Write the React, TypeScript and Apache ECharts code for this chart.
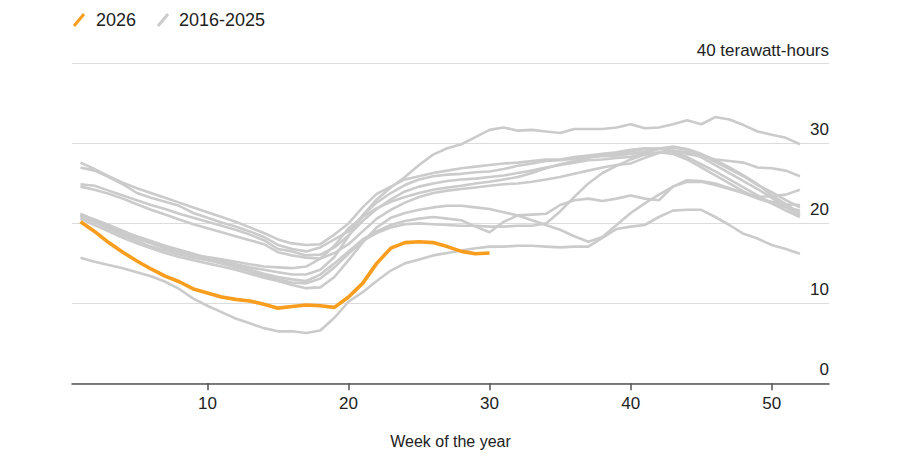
import React, { useEffect, useRef } from "react";
import * as echarts from "echarts";

const X_TICKS = [10, 20, 30, 40, 50];
const Y_TICK_TOP_LABEL = "40 terawatt-hours";

const Y2026 = [
  20.2, 19.0, 17.6, 16.4, 15.3, 14.3, 13.4, 12.7, 11.8, 11.3,
  10.8, 10.5, 10.3, 9.9, 9.4, 9.6, 9.8, 9.7, 9.5, 10.8,
  12.5, 15.0, 16.9, 17.6, 17.7, 17.6, 17.1, 16.5, 16.2, 16.3,
];

const G1 = [
  20.8, 20.2, 19.6, 19.0, 18.4, 17.8, 17.2, 16.7, 16.2, 15.7,
  15.3, 14.9, 14.5, 14.2, 13.9, 13.6, 13.6, 14.2, 15.8, 18.4,
  21.0, 23.0, 24.5, 25.8, 27.3, 28.6, 29.4, 29.9, 30.8, 31.7,
  32.0, 31.6, 31.7, 31.5, 31.3, 31.8, 31.8, 31.8, 32.0, 32.4,
  31.9, 32.0, 32.4, 32.9, 32.4, 33.3, 33.0, 32.3, 31.5, 31.1,
  30.7, 29.9,
];
const G10 = [
  15.7, 15.2, 14.8, 14.4, 13.9, 13.4, 12.7, 11.8, 10.6, 9.7,
  8.9, 8.1, 7.5, 6.9, 6.5, 6.5, 6.3, 6.6, 8.2, 10.2,
  11.4, 12.8, 14.1, 15.0, 15.5, 16.0, 16.3, 16.6, 16.9, 17.1,
  17.1, 17.2, 17.2, 17.1, 17.0, 17.1, 17.1, 18.2, 19.3, 19.6,
  19.8, 20.8, 21.6, 21.7, 21.7, 20.8, 19.8, 18.7, 18.1, 17.3,
  16.8, 16.2,
];
const U1 = [
  27.6, 26.8, 25.9, 25.1, 24.4, 23.8, 23.2, 22.6, 22.0, 21.4,
  20.8, 20.2, 19.5, 18.8, 18.0, 17.5, 17.3, 17.4, 18.6, 20.0,
  22.0, 23.7, 24.6, 25.5, 25.9, 26.3, 26.6, 26.9, 27.1, 27.3,
  27.5, 27.6, 27.8, 28.0, 28.0, 28.3, 28.5, 28.7, 28.9, 29.2,
  29.4, 29.3, 29.1, 28.7, 28.4, 28.0, 27.8, 27.6, 27.0, 26.9,
  26.6, 25.9,
];
const U2 = [
  27.0, 26.6, 25.8, 24.9, 23.8, 23.2, 22.7, 22.2, 21.3, 20.7,
  20.1, 19.6, 19.0, 18.3, 17.3, 16.8, 16.5, 17.0, 18.0, 19.0,
  21.0, 22.6, 23.8, 24.8, 25.5, 25.9, 26.1, 26.2, 26.4, 26.5,
  26.8, 27.2, 27.5, 27.8, 27.9, 28.1, 28.3, 28.4, 28.5, 28.7,
  29.0, 29.4, 29.5, 29.2, 28.6, 27.7, 26.8, 25.9, 24.8, 23.9,
  22.9, 22.0,
];
const U3 = [
  24.9, 24.7, 24.1, 23.5, 22.9, 22.3, 21.8, 21.2, 20.7, 20.2,
  19.7, 19.2, 18.6, 17.9, 16.8, 16.5, 16.0, 16.1, 17.0, 18.5,
  20.3, 21.8, 23.0, 24.0, 24.6, 25.0, 25.3, 25.5, 25.6, 25.8,
  26.0, 26.3, 26.6, 27.0, 27.3, 27.6, 27.9, 28.0, 28.2, 28.3,
  28.8, 29.3, 29.6, 29.3, 28.7, 27.9, 27.0, 26.0, 24.9, 23.5,
  22.4, 21.3,
];
const U4 = [
  24.6, 24.2, 23.7, 23.1, 22.4, 21.7, 21.1, 20.5, 19.9, 19.4,
  18.9, 18.4, 17.9, 17.4, 16.4, 16.0, 15.7, 15.6, 16.3, 17.4,
  19.0, 20.6, 21.7, 22.6, 23.3, 23.8, 24.1, 24.3, 24.5, 24.7,
  24.9, 25.0, 25.2, 25.5, 25.8, 26.2, 26.6, 27.0, 27.3, 27.5,
  28.2, 28.8, 29.1, 28.9, 28.3, 27.3, 26.3, 25.3, 24.3, 23.2,
  22.0, 21.0,
];
const M2 = [
  21.2, 20.4, 19.4, 18.7, 18.1, 17.5, 16.9, 16.4, 16.0, 15.8,
  15.5, 15.2, 14.9, 14.6, 14.5, 14.4, 14.6, 15.6, 17.2, 19.4,
  20.8, 21.9, 22.7, 23.3, 23.8, 24.2, 24.5, 24.7, 25.0, 25.2,
  25.5, 25.8, 26.3, 26.9, 27.4, 27.8, 28.2, 28.5, 28.7, 29.0,
  29.3, 29.4, 29.0, 28.3, 27.4, 26.5, 25.5, 24.5, 23.5, 22.5,
  21.6, 20.8,
];
const M3 = [
  21.0, 20.2, 19.3, 18.5, 17.8, 17.1, 16.6, 16.1, 15.7, 15.4,
  15.0, 14.5, 14.0, 13.5, 13.0, 12.6, 12.5, 13.1, 14.5, 16.2,
  17.8, 18.8, 19.5, 19.9, 20.0, 19.9, 19.8, 19.7, 19.7, 19.6,
  19.6, 19.7, 19.7, 20.0, 21.5, 23.3, 25.0, 26.3, 27.2, 28.0,
  28.6, 28.9, 28.7, 28.0, 27.0, 26.0, 25.0, 24.0, 23.2, 22.5,
  22.0, 21.6,
];
const G2 = [
  20.6, 19.8, 19.0, 18.2, 17.5, 16.9, 16.3, 15.8, 15.4, 15.0,
  14.6, 14.2, 13.7, 13.2, 12.8, 12.3, 11.9, 12.0, 13.3, 15.4,
  17.6, 19.5, 20.7, 21.3, 21.7, 22.0, 22.2, 22.2, 22.0, 21.8,
  21.4, 21.0, 20.4, 19.8, 19.2, 18.4, 17.7, 18.3, 19.8, 21.3,
  22.5, 23.6, 24.6, 25.4, 25.3, 25.0, 24.4, 23.8, 23.1, 22.7,
  22.4, 22.3,
];
const G3 = [
  21.1, 20.5, 19.8, 19.1, 18.3, 17.6, 17.0, 16.5, 16.0, 15.5,
  15.1, 14.7, 14.2, 13.7, 13.3, 13.0, 12.8, 13.6, 15.0, 16.5,
  18.0, 19.0, 19.8, 20.3, 20.6, 20.8, 20.6, 20.4, 19.6, 18.9,
  20.2, 21.0, 21.1, 21.2, 22.3, 22.9, 23.1, 22.8, 23.1, 23.5,
  23.1, 22.9, 24.6, 25.2, 25.2, 24.8, 24.3, 23.8, 23.3, 23.4,
  23.6, 24.2,
];

const PAST_YEARS = [G1, G10, U1, U2, U3, U4, M2, M3, G2, G3];

const ORANGE = "#f89d1d";
const GRAY = "#cbcbcb";
const FONT = "Liberation Sans, Arial, sans-serif";

const toPairs = (arr: number[]) => arr.map((v, i) => [i + 1, v]);

export default function App() {
  const ref = useRef<HTMLDivElement>(null);
  useEffect(() => {
    if (!ref.current) return;
    const chart = echarts.init(ref.current, undefined, { renderer: "svg" });
    const series: any[] = PAST_YEARS.map((arr, i) => ({
      type: "line",
      name: "2016-2025",
      data: toPairs(arr),
      showSymbol: false,
      symbol: "none",
      lineStyle: { color: GRAY, width: 2.6 },
      z: 2,
      silent: true,
    }));
    series.push({
      type: "line",
      name: "2026",
      data: toPairs(Y2026),
      showSymbol: false,
      symbol: "none",
      lineStyle: { color: ORANGE, width: 3.6 },
      z: 5,
      silent: true,
    });
    chart.setOption({
      animation: false,
      backgroundColor: "#ffffff",
      textStyle: { fontFamily: FONT },
      grid: { left: 72, right: 71, top: 63.5, bottom: 81.7 },
      xAxis: {
        type: "value",
        min: 0.4,
        max: 54.06,
        name: "Week of the year",
        nameLocation: "middle",
        nameGap: 50,
        nameTextStyle: { fontSize: 16, color: "#222", fontFamily: FONT },
        axisLine: { show: true, lineStyle: { color: "#555", width: 1.5 } },
        axisTick: { show: true, length: 7, customValues: X_TICKS, lineStyle: { color: "#555", width: 1.5 } },
        axisLabel: { customValues: X_TICKS, fontSize: 17, color: "#222", margin: 12, fontFamily: FONT },
        splitLine: { show: false },
      },
      yAxis: {
        type: "value",
        position: "right",
        min: 0,
        max: 40,
        interval: 10,
        axisLine: { show: false },
        axisTick: { show: false },
        axisLabel: {
          inside: true,
          margin: 0,
          align: "right",
          verticalAlign: "bottom",
          padding: [0, 0, 5, 0],
          fontSize: 17,
          color: "#222",
          fontFamily: FONT,
          formatter: (v: number) => (v === 40 ? Y_TICK_TOP_LABEL : String(v)),
        },
        splitLine: { show: true, lineStyle: { color: "#dcdcdc", width: 1.2 } },
      },
      graphic: [
        { type: "line", shape: { x1: 74, y1: 26, x2: 84, y2: 14 }, style: { stroke: ORANGE, lineWidth: 3 } },
        { type: "text", x: 96, y: 20, style: { text: "2026", fontSize: 18, fill: "#222", fontFamily: FONT, textVerticalAlign: "middle" } },
        { type: "line", shape: { x1: 158, y1: 26, x2: 168, y2: 14 }, style: { stroke: GRAY, lineWidth: 3 } },
        { type: "text", x: 179, y: 20, style: { text: "2016-2025", fontSize: 18, fill: "#222", fontFamily: FONT, textVerticalAlign: "middle" } },
      ],
      series,
    });
    return () => chart.dispose();
  }, []);
  return (
    <div
      ref={ref}
      style={{ position: "absolute", left: 0, top: 0, width: 900, height: 465, background: "#fff" }}
    />
  );
}
